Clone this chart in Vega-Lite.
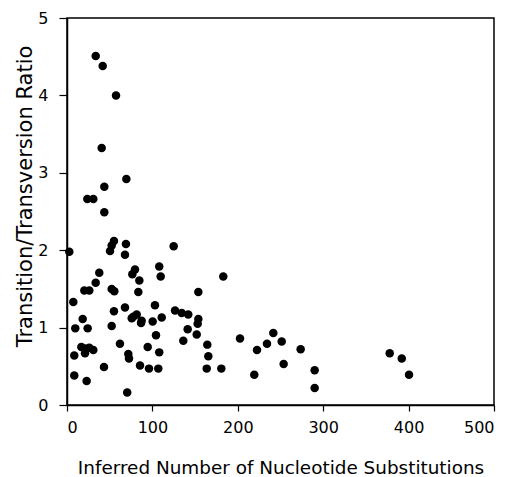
{
  "$schema": "https://vega.github.io/schema/vega-lite/v6.json",
  "autosize": "none",
  "padding": {"left": 67, "top": 18, "right": 22, "bottom": 72},
  "width": 427,
  "height": 387,
  "background": "white",
  "config": {
    "view": {"stroke": "black", "strokeWidth": 1.5},
    "axis": {
      "domainColor": "black",
      "domainWidth": 1.5,
      "tickColor": "black",
      "tickWidth": 1.2,
      "grid": false,
      "labelColor": "black",
      "titleColor": "black",
      "labelFont": "DejaVu Sans",
      "titleFont": "DejaVu Sans",
      "labelFontSize": 16,
      "titleFontWeight": "normal"
    }
  },
  "data": {
    "values": [
      {"subs": 33.6, "ratio": 4.51},
      {"subs": 41.8, "ratio": 4.38},
      {"subs": 57.4, "ratio": 4.0},
      {"subs": 40.6, "ratio": 3.32},
      {"subs": 69.5, "ratio": 2.92},
      {"subs": 43.7, "ratio": 2.82},
      {"subs": 23.8, "ratio": 2.66},
      {"subs": 30.8, "ratio": 2.66},
      {"subs": 43.7, "ratio": 2.49},
      {"subs": 2.7, "ratio": 1.98},
      {"subs": 55.0, "ratio": 2.12},
      {"subs": 52.3, "ratio": 2.06},
      {"subs": 50.4, "ratio": 1.99},
      {"subs": 69.0, "ratio": 2.08},
      {"subs": 67.9, "ratio": 1.94},
      {"subs": 124.9, "ratio": 2.05},
      {"subs": 37.8, "ratio": 1.71},
      {"subs": 33.6, "ratio": 1.58},
      {"subs": 20.3, "ratio": 1.48},
      {"subs": 26.1, "ratio": 1.48},
      {"subs": 52.3, "ratio": 1.5},
      {"subs": 55.4, "ratio": 1.47},
      {"subs": 7.4, "ratio": 1.33},
      {"subs": 79.6, "ratio": 1.75},
      {"subs": 76.5, "ratio": 1.69},
      {"subs": 84.7, "ratio": 1.61},
      {"subs": 83.5, "ratio": 1.46},
      {"subs": 108.0, "ratio": 1.79},
      {"subs": 109.7, "ratio": 1.66},
      {"subs": 153.8, "ratio": 1.46},
      {"subs": 183.0, "ratio": 1.66},
      {"subs": 55.0, "ratio": 1.21},
      {"subs": 67.9, "ratio": 1.26},
      {"subs": 18.4, "ratio": 1.11},
      {"subs": 103.0, "ratio": 1.29},
      {"subs": 126.5, "ratio": 1.22},
      {"subs": 134.3, "ratio": 1.19},
      {"subs": 142.0, "ratio": 1.17},
      {"subs": 81.6, "ratio": 1.17},
      {"subs": 77.6, "ratio": 1.14},
      {"subs": 75.8, "ratio": 1.12},
      {"subs": 86.7, "ratio": 1.06},
      {"subs": 87.4, "ratio": 1.09},
      {"subs": 100.3, "ratio": 1.08},
      {"subs": 110.9, "ratio": 1.13},
      {"subs": 153.8, "ratio": 1.11},
      {"subs": 153.0, "ratio": 1.05},
      {"subs": 151.9, "ratio": 0.91},
      {"subs": 141.3, "ratio": 0.98},
      {"subs": 104.2, "ratio": 0.9},
      {"subs": 136.2, "ratio": 0.83},
      {"subs": 9.7, "ratio": 0.99},
      {"subs": 24.2, "ratio": 0.99},
      {"subs": 52.3, "ratio": 1.02},
      {"subs": 16.8, "ratio": 0.75},
      {"subs": 21.1, "ratio": 0.73},
      {"subs": 26.1, "ratio": 0.74},
      {"subs": 30.8, "ratio": 0.71},
      {"subs": 21.1, "ratio": 0.67},
      {"subs": 8.5, "ratio": 0.64},
      {"subs": 62.0, "ratio": 0.79},
      {"subs": 94.5, "ratio": 0.75},
      {"subs": 108.0, "ratio": 0.68},
      {"subs": 71.8, "ratio": 0.66},
      {"subs": 72.6, "ratio": 0.6},
      {"subs": 43.3, "ratio": 0.49},
      {"subs": 8.5, "ratio": 0.38},
      {"subs": 23.0, "ratio": 0.31},
      {"subs": 70.5, "ratio": 0.16},
      {"subs": 85.5, "ratio": 0.51},
      {"subs": 96.0, "ratio": 0.47},
      {"subs": 106.9, "ratio": 0.47},
      {"subs": 164.3, "ratio": 0.78},
      {"subs": 165.5, "ratio": 0.63},
      {"subs": 163.6, "ratio": 0.47},
      {"subs": 180.7, "ratio": 0.47},
      {"subs": 202.6, "ratio": 0.86},
      {"subs": 222.5, "ratio": 0.71},
      {"subs": 219.3, "ratio": 0.39},
      {"subs": 234.2, "ratio": 0.79},
      {"subs": 241.6, "ratio": 0.93},
      {"subs": 251.4, "ratio": 0.82},
      {"subs": 253.7, "ratio": 0.53},
      {"subs": 273.6, "ratio": 0.72},
      {"subs": 290.0, "ratio": 0.45},
      {"subs": 290.0, "ratio": 0.22},
      {"subs": 377.9, "ratio": 0.67},
      {"subs": 392.0, "ratio": 0.6},
      {"subs": 400.5, "ratio": 0.39}
    ]
  },
  "mark": {"type": "circle", "color": "black", "opacity": 1, "size": 72},
  "encoding": {
    "x": {
      "field": "subs",
      "type": "quantitative",
      "scale": {"domain": [0, 500], "nice": false, "zero": true},
      "axis": {
        "title": "Inferred Number of Nucleotide Substitutions",
        "titleFontSize": 18.4,
        "values": [0, 100, 200, 300, 400, 500],
        "tickSize": 6,
        "labelPadding": 8,
        "titlePadding": 23
      }
    },
    "y": {
      "field": "ratio",
      "type": "quantitative",
      "scale": {"domain": [0, 5], "nice": false},
      "axis": {
        "title": "Transition/Transversion Ratio",
        "titleFontSize": 21,
        "titleY": 178,
        "values": [0, 1, 2, 3, 4, 5],
        "tickSize": 8,
        "labelPadding": 11,
        "titlePadding": 2
      }
    }
  }
}
